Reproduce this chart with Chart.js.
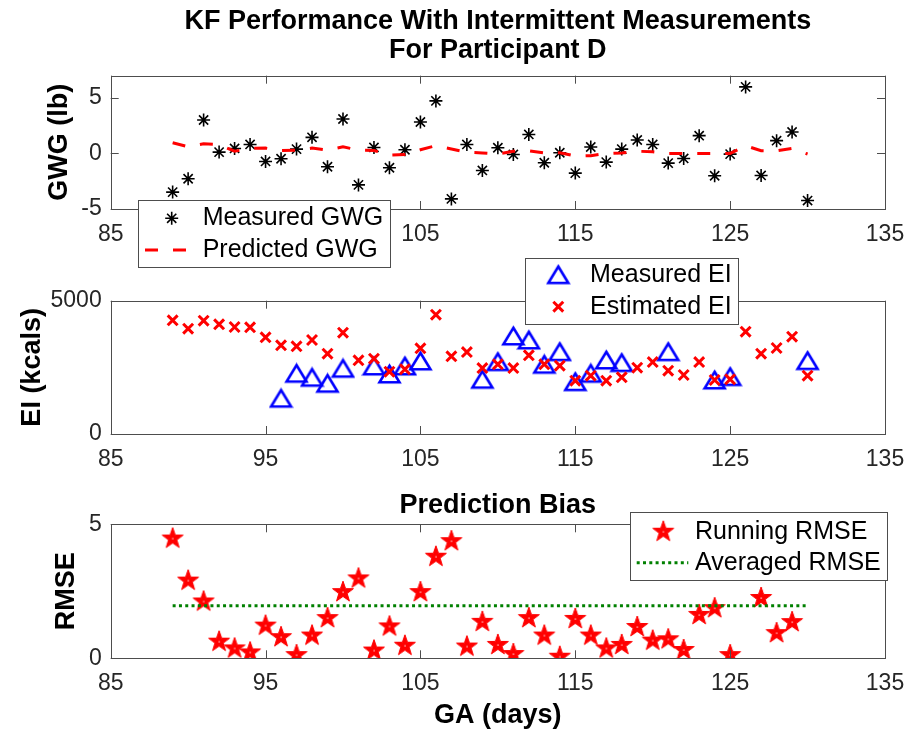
<!DOCTYPE html>
<html>
<head>
<meta charset="utf-8">
<script src="https://cdn.jsdelivr.net/npm/chart.js@4.4.1/dist/chart.umd.min.js"></script>
<style>
  html, body { margin: 0; padding: 0; background: #fff; }
  #wrap { position: relative; width: 907px; height: 735px; overflow: hidden; }
  canvas { position: absolute; left: 0; }
</style>
</head>
<body>
<div id="wrap">
  <canvas id="c1"></canvas>
  <canvas id="c2"></canvas>
  <canvas id="c3"></canvas>
</div>
<script>
// ---- data ----
const xTicks = [85, 95, 105, 115, 125, 135];
const gwgTicks = [-5, 0, 5];
const eiTicks = [0, 5000];
const rmseTicks = [0, 5];

const days = [89, 90, 91, 92, 93, 94, 95, 96, 97, 98, 99, 100, 101, 102, 103, 104, 105, 106, 107, 108, 109, 110,
              111, 112, 113, 114, 115, 116, 117, 118, 119, 120, 121, 122, 123, 124, 125, 126, 127, 128, 129, 130];
const measuredGwg = [-3.48, -2.28, 3.01, 0.12, 0.45, 0.81, -0.72, -0.48, 0.39, 1.45, -1.2, 3.1, -2.83, 0.54, -1.29, 0.33, 2.83, 4.73, -4.09, 0.81, -1.53, 0.51,
                     -0.09, 1.71, -0.84, 0.06, -1.77, 0.58, -0.78, 0.39, 1.21, 0.81, -0.87, -0.45, 1.6, -2.01, -0.06, 5.99, -1.98, 1.15, 1.93, -4.24];
const predictedGwg = [0.96, 0.6, 0.87, 0.8, 0.2, 0.45, 0.48, 0.27, 0.3, 0.48, 0.3, 0.6, 0.3, 0.27, -0.15, -0.1, 0.33, 0.7, 0.4, 0.1, 0.05, -0.05,
                      0.2, 0.23, 0.05, 0.07, -0.23, -0.2, 0.0, 0.05, 0.2, 0.15, 0.0, 0.0, 0.0, 0.0, 0.0, 0.7, 0.25, 0.23, 0.45, -0.05];
const estimatedEi = [4265, 3950, 4250, 4115, 4013, 4000, 3627, 3327, 3290, 3526, 3012, 3800, 2764, 2824, 2337, 2426, 3214, 4475, 2914, 3075, 2475, 2614,
                     2475, 2951, 2614, 2562, 2000, 2187, 2000, 2125, 2487, 2700, 2375, 2213, 2700, 2025, 2050, 3837, 3012, 3226, 3650, 2187];
const measuredEiDays = [96, 97, 98, 99, 100, 102, 103, 104, 105, 109, 110, 111, 112, 113, 114, 115, 116, 117, 118, 121, 124, 125, 130];
const measuredEi = [1340, 2275, 2125, 1900, 2462, 2550, 2250, 2550, 2738, 2050, 2712, 3675, 3525, 2612, 3087, 1962, 2275, 2775, 2675, 3087, 2025, 2150, 2750];
const rmseDays = [89, 90, 91, 92, 93, 94, 95, 96, 97, 98, 99, 100, 101, 102, 103, 104, 105, 106, 107, 108, 109, 110,
                  111, 112, 113, 114, 115, 116, 117, 118, 119, 120, 121, 122, 123, 124, 125, 127, 128, 129];
const runningRmse = [4.47, 2.9, 2.12, 0.62, 0.37, 0.22, 1.22, 0.79, 0.12, 0.85, 1.5, 2.47, 2.98, 0.29, 1.19, 0.47, 2.47, 3.79, 4.37, 0.44, 1.36, 0.5,
                     0.16, 1.5, 0.85, 0.06, 1.47, 0.85, 0.37, 0.5, 1.17, 0.66, 0.71, 0.31, 1.62, 1.87, 0.12, 2.25, 0.94, 1.35];
const avgRmseDays = [89, 130];
const avgRmse = [1.96, 1.96];

// ---- styling ----
const FONT = '"Liberation Sans", Arial, Helvetica, sans-serif';
const AXIS_COLOR = '#4d4d4d';
const TICK_COLOR = '#262626';
const LABEL_FONT = {family: FONT, size: 27, weight: 'bold', lineHeight: 1.2};

function pts(xs, ys) { return xs.map((x, i) => ({x: x, y: ys[i]})); }

// MATLAB-like markers drawn into small canvases
function pentagram(r, color) {
  const s = Math.ceil(2 * r + 4), c = document.createElement('canvas');
  c.width = s; c.height = s;
  const g = c.getContext('2d'), cx = s / 2, cy = s / 2;
  g.beginPath();
  for (let k = 0; k < 10; k++) {
    const a = -Math.PI / 2 + k * Math.PI / 5, rr = k % 2 ? r * 0.4 : r;
    g.lineTo(cx + rr * Math.cos(a), cy + rr * Math.sin(a));
  }
  g.closePath();
  g.fillStyle = color; g.fill();
  g.strokeStyle = color; g.lineWidth = 1; g.stroke();
  g.fillStyle = '#fff'; g.fillRect(cx - 0.5, cy - 0.5, 1.2, 1.2);
  return c;
}
function triangleUp(w, h, color, lw) {
  const c = document.createElement('canvas');
  c.width = Math.ceil(w + lw + 2); c.height = Math.ceil(h + lw + 2);
  const g = c.getContext('2d'), cx = c.width / 2, cy = c.height / 2;
  g.beginPath();
  g.moveTo(cx, cy - h / 2); g.lineTo(cx + w / 2, cy + h / 2); g.lineTo(cx - w / 2, cy + h / 2); g.closePath();
  g.strokeStyle = color; g.lineWidth = lw; g.lineJoin = 'miter'; g.stroke();
  return c;
}
const starMark = pentagram(11, '#ff0000');
const triMark = triangleUp(20, 16.5, '#0000ff', 2.6);

function xScale(height, title) {
  return {
    type: 'linear', min: 85, max: 135,
    afterBuildTicks: s => { s.ticks = xTicks.map(v => ({value: v})); },
    afterFit: s => { s.height = height; s.paddingLeft = 0; s.paddingRight = 0; },
    grid: {display: false, drawTicks: false}, border: {display: false},
    ticks: {font: {family: FONT, size: 23}, color: TICK_COLOR, padding: 12, maxRotation: 0, autoSkip: false,
            callback: v => String(v)},
    title: title ? {display: true, text: title, color: '#000', font: LABEL_FONT,
                    padding: {top: 0, bottom: 2.8}} : {display: false}
  };
}
function yScale(min, max, ticks, title, titlePad) {
  return {
    type: 'linear', min: min, max: max,
    afterBuildTicks: s => { s.ticks = ticks.map(v => ({value: v})); },
    afterFit: s => { s.width = 110.7; s.paddingTop = 0; s.paddingBottom = 0; },
    grid: {display: false, drawTicks: false}, border: {display: false},
    ticks: {font: {family: FONT, size: 23}, color: TICK_COLOR, padding: 9, callback: v => String(v)},
    title: {display: true, text: title, color: '#000', font: LABEL_FONT,
            padding: {top: titlePad, bottom: 0}}
  };
}

// box around the axes with inward tick marks
const axesBox = {
  id: 'axesBox',
  afterDatasetsDraw(chart) {
    const {ctx, chartArea: a, scales} = chart;
    const tl = 8;
    ctx.save();
    ctx.strokeStyle = AXIS_COLOR;
    ctx.lineWidth = 1;
    ctx.beginPath();
    scales.x.ticks.forEach(t => {
      const px = Math.round(scales.x.getPixelForValue(t.value)) + 0.5;
      ctx.moveTo(px, a.bottom); ctx.lineTo(px, a.bottom - tl);
      ctx.moveTo(px, a.top); ctx.lineTo(px, a.top + tl);
    });
    scales.y.ticks.forEach(t => {
      const py = Math.round(scales.y.getPixelForValue(t.value)) + 0.5;
      ctx.moveTo(a.left, py); ctx.lineTo(a.left + tl, py);
      ctx.moveTo(a.right, py); ctx.lineTo(a.right - tl, py);
    });
    ctx.stroke();
    ctx.strokeRect(Math.round(a.left) + 0.5, Math.round(a.top) + 0.5,
                   Math.round(a.right - a.left), Math.round(a.bottom - a.top));
    ctx.restore();
  }
};

// MATLAB style legend box, drawn on top
function legendBox(cfg, canvasTop) {
  return {
    id: 'mlLegend',
    afterDraw(chart) {
      const ctx = chart.ctx, b = cfg.box;
      ctx.save();
      ctx.fillStyle = '#fff';
      ctx.fillRect(b.x, b.y - canvasTop, b.w, b.h);
      ctx.strokeStyle = AXIS_COLOR; ctx.lineWidth = 1;
      ctx.strokeRect(Math.round(b.x) + 0.5, Math.round(b.y - canvasTop) + 0.5, Math.round(b.w), Math.round(b.h));
      ctx.font = '25px ' + FONT;
      ctx.textBaseline = 'middle'; ctx.textAlign = 'left';
      cfg.rows.forEach((rowY, i) => {
        const ds = chart.data.datasets[cfg.order[i]];
        const y = rowY - canvasTop, mx = cfg.markX;
        ctx.save();
        ctx.strokeStyle = ds.borderColor; ctx.fillStyle = ds.backgroundColor || ds.borderColor;
        if (ds.showLine) {
          ctx.lineWidth = ds.borderWidth;
          ctx.setLineDash(ds.borderDash || []);
          ctx.beginPath(); ctx.moveTo(cfg.lineX[0], y); ctx.lineTo(cfg.lineX[1], y); ctx.stroke();
        } else if (typeof ds.pointStyle === 'object') {
          const im = ds.pointStyle;
          ctx.drawImage(im, mx - im.width / 2, y - im.height / 2);
        } else {
          const r = ds.pointRadius, d = Math.cos(Math.PI / 4) * r;
          ctx.lineWidth = ds.borderWidth;
          ctx.beginPath();
          if (ds.pointStyle === 'star') {
            ctx.moveTo(mx, y - r); ctx.lineTo(mx, y + r);
            ctx.moveTo(mx - r, y); ctx.lineTo(mx + r, y);
          }
          ctx.moveTo(mx - d, y - d); ctx.lineTo(mx + d, y + d);
          ctx.moveTo(mx - d, y + d); ctx.lineTo(mx + d, y - d);
          ctx.stroke();
        }
        ctx.restore();
        ctx.fillStyle = '#000';
        ctx.fillText(ds.label, cfg.textX, y);
      });
      ctx.restore();
    }
  };
}

function makeChart(id, top, height, config, legendCfg) {
  const cv = document.getElementById(id);
  cv.width = 907; cv.height = height;
  cv.style.top = top + 'px'; cv.style.width = '907px'; cv.style.height = height + 'px';
  config.options.responsive = false;
  config.options.animation = false;
  config.options.devicePixelRatio = 1;
  config.options.events = [];
  config.options.plugins.legend = {display: false};
  config.options.plugins.tooltip = {enabled: false};
  config.plugins = [axesBox, legendBox(legendCfg, top)];
  return new Chart(cv.getContext('2d'), config);
}

// ---- panel 1: GWG ----
makeChart('c1', 0, 280, {
  type: 'scatter',
  data: {
    datasets: [
      {label: 'Measured GWG', data: pts(days, measuredGwg), pointStyle: 'star', pointRadius: 6.5,
       borderColor: '#000000', backgroundColor: '#000000', borderWidth: 1.6, order: 1},
      {label: 'Predicted GWG', data: pts(days, predictedGwg), showLine: true, pointRadius: 0,
       borderColor: '#ff0000', backgroundColor: '#ff0000', borderWidth: 3, borderDash: [13, 15], order: 0}
    ]
  },
  options: {
    layout: {padding: {left: 0, right: 22, top: 0, bottom: 31}},
    scales: {x: xScale(40), y: yScale(-5, 7, gwgTicks, 'GWG (lb)', 43)},
    plugins: {
      title: {display: true, fullSize: false,
              text: ['KF Performance With Intermittent Measurements', 'For Participant D'],
              color: '#000', font: {family: FONT, size: 27, weight: 'bold', lineHeight: 1.07},
              padding: {top: 7.55, bottom: 10.35}}
    }
  }
}, {box: {x: 138.3, y: 200, w: 251.7, h: 67.3}, rows: [218.3, 250], order: [0, 1],
    markX: 171.7, lineX: [145, 186.7], textX: 202.7});

// ---- panel 2: EI ----
makeChart('c2', 250, 230, {
  type: 'scatter',
  data: {
    datasets: [
      {label: 'Measured EI', data: pts(measuredEiDays, measuredEi), pointStyle: triMark, pointRadius: 10,
       borderColor: '#0000ff', backgroundColor: 'rgba(0,0,0,0)', borderWidth: 2.6, order: 1},
      {label: 'Estimated EI', data: pts(days, estimatedEi), pointStyle: 'crossRot', pointRadius: 7,
       borderColor: '#ff0000', backgroundColor: '#ff0000', borderWidth: 3, order: 0}
    ]
  },
  options: {
    layout: {padding: {left: 0, right: 22, top: 50.7, bottom: 6}},
    scales: {x: xScale(40), y: yScale(0, 5000, eiTicks, 'EI (kcals)', 16)},
    plugins: {}
  }
}, {box: {x: 525, y: 258, w: 213.3, h: 66.3}, rows: [274.7, 306.7], order: [0, 1],
    markX: 558.3, lineX: [540, 576], textX: 590});

// ---- panel 3: RMSE ----
makeChart('c3', 470, 265, {
  type: 'scatter',
  data: {
    datasets: [
      {label: 'Running RMSE', data: pts(rmseDays, runningRmse), pointStyle: starMark, pointRadius: 10,
       borderColor: '#ff0000', backgroundColor: '#ff0000', borderWidth: 1, order: 1},
      {label: 'Averaged RMSE', data: pts(avgRmseDays, avgRmse), showLine: true, pointRadius: 0,
       borderColor: '#008000', backgroundColor: '#008000', borderWidth: 3, borderDash: [3, 3.3], order: 0}
    ]
  },
  options: {
    layout: {padding: {left: 0, right: 22, top: 0, bottom: 0}},
    scales: {x: xScale(76.7, 'GA (days)'), y: yScale(0, 5, rmseTicks, 'RMSE', 50)},
    plugins: {
      title: {display: true, fullSize: false, text: 'Prediction Bias', color: '#000',
              font: {family: FONT, size: 27, weight: 'bold', lineHeight: 1.2},
              padding: {top: 19.8, bottom: 2.1}}
    }
  }
}, {box: {x: 630, y: 512.3, w: 256.7, h: 67.7}, rows: [531.7, 562.7], order: [0, 1],
    markX: 663.3, lineX: [636.7, 688.3], textX: 695});
</script>
</body>
</html>
